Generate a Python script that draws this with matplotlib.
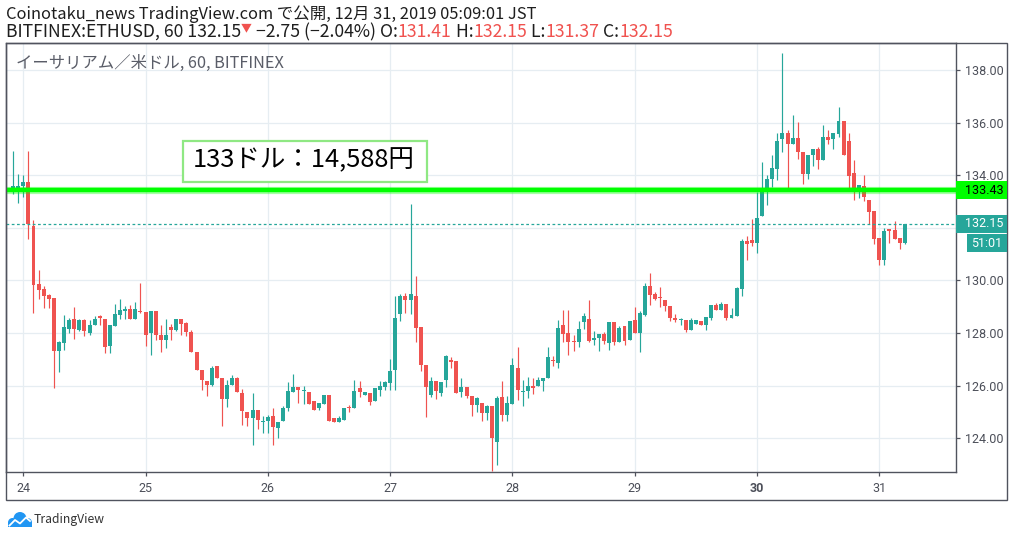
import matplotlib
matplotlib.use('Agg')
import numpy as np
import matplotlib.pyplot as plt
from matplotlib.patches import Rectangle, Circle
from matplotlib.lines import Line2D
from matplotlib.transforms import IdentityTransform

# ---------------- data ----------------
day_labels = ['24', '25', '26', '27', '28', '29', '30', '31']
day_index = [2, 26, 50, 74, 98, 122, 146, 170]
price_ticks = [124, 126, 128, 130, 132, 134, 136, 138]

opens = [133.48, 133.48, 133.60, 133.73, 132.06, 129.86, 129.67, 129.46, 129.33, 127.33,
         127.63, 128.16, 128.53, 128.11, 128.48, 128.00, 128.30, 128.65, 128.53, 127.52,
         128.27, 128.70, 128.84, 128.92, 128.54, 128.85, 128.81, 128.00, 128.85, 127.94,
         127.72, 128.24, 128.10, 128.54, 128.39, 128.04, 127.27, 126.61, 126.19, 126.04,
         126.76, 126.27, 125.49, 126.04, 126.27, 125.70, 124.99, 124.75, 125.06, 124.62,
         124.65, 124.84, 124.39, 124.67, 125.15, 125.76, 125.94, 125.78, 125.75, 125.41,
         125.13, 125.30, 125.63, 124.75, 124.61, 124.71, 125.18, 125.13, 125.89, 125.63,
         125.70, 125.43, 125.85, 125.95, 126.09, 126.58, 128.73, 129.39, 129.25, 129.39,
         128.22, 126.77, 125.66, 126.19, 125.71, 126.21, 126.97, 126.92, 125.75, 125.95,
         125.62, 125.25, 125.33, 124.95, 125.22, 123.87, 125.58, 124.87, 125.30, 126.68,
         125.75, 125.81, 125.99, 125.99, 126.19, 126.27, 126.97, 126.86, 128.30, 128.00,
         127.70, 127.67, 128.43, 128.53, 127.72, 127.82, 127.96, 127.63, 128.42, 127.66,
         128.27, 127.73, 128.49, 128.01, 128.70, 129.80, 129.49, 129.38, 129.27, 129.04,
         128.58, 128.48, 128.51, 128.10, 128.35, 128.47, 128.32, 128.56, 129.08, 128.89,
         129.11, 128.56, 128.63, 129.68, 131.49, 131.54, 131.44, 132.43, 133.38, 133.87,
         134.25, 135.39, 135.61, 135.20, 135.42, 134.89, 134.03, 134.77, 135.00, 134.59,
         135.44, 135.38, 135.58, 136.06, 135.30, 134.09, 133.35, 133.59, 133.06, 132.65,
         131.63, 130.78, 131.96, 131.92, 131.62, 131.41]
highs = [134.91, 134.04, 134.00, 134.91, 132.29, 130.39, 129.78, 129.48, 129.33, 127.70,
         128.68, 128.58, 128.99, 128.53, 128.53, 128.48, 128.63, 128.70, 128.53, 128.30,
         129.11, 129.28, 129.04, 129.08, 129.19, 129.92, 128.81, 128.85, 128.85, 128.30,
         128.54, 128.35, 128.54, 128.54, 128.43, 128.13, 127.27, 126.61, 126.19, 126.76,
         126.76, 126.27, 126.23, 126.42, 126.32, 125.87, 124.99, 125.70, 125.06, 124.86,
         124.90, 125.15, 124.61, 125.24, 126.13, 126.46, 125.94, 126.00, 125.75, 125.41,
         125.32, 125.66, 125.63, 124.75, 124.84, 125.15, 125.25, 126.23, 126.19, 125.75,
         125.70, 125.89, 126.19, 126.19, 127.03, 129.39, 129.47, 129.53, 132.92, 130.16,
         128.22, 126.77, 126.32, 126.19, 126.14, 127.15, 127.09, 126.92, 126.27, 125.95,
         125.62, 125.57, 125.33, 125.27, 125.22, 125.61, 126.19, 125.62, 127.05, 127.47,
         126.22, 126.33, 126.30, 126.33, 126.30, 127.47, 127.14, 128.49, 128.87, 128.87,
         127.92, 128.46, 128.76, 129.25, 128.09, 127.96, 128.03, 128.42, 128.42, 128.27,
         128.27, 128.46, 128.99, 128.84, 129.90, 130.30, 129.56, 129.76, 129.27, 129.04,
         128.73, 128.56, 128.51, 128.56, 128.51, 128.47, 128.62, 129.08, 129.14, 129.19,
         129.11, 128.94, 129.76, 131.58, 131.67, 132.33, 133.38, 134.51, 134.01, 134.77,
         135.61, 138.66, 135.72, 136.29, 136.04, 134.89, 134.77, 135.00, 135.09, 135.91,
         135.72, 135.59, 136.59, 136.06, 135.62, 134.58, 133.62, 134.01, 133.06, 132.65,
         131.63, 131.99, 131.96, 132.27, 131.62, 132.15]
lows = [133.30, 132.95, 133.18, 131.57, 128.77, 129.30, 128.96, 128.96, 125.92, 126.53,
        127.37, 128.00, 127.77, 128.06, 127.90, 127.92, 128.29, 128.30, 127.23, 127.23,
        128.27, 128.53, 128.53, 128.54, 128.54, 128.76, 127.49, 127.15, 127.75, 127.27,
        127.42, 127.75, 128.06, 127.94, 127.87, 127.27, 126.61, 125.82, 125.62, 125.97,
        126.27, 124.46, 125.18, 126.04, 125.75, 124.52, 124.48, 123.76, 124.35, 124.18,
        124.18, 123.76, 123.99, 124.67, 125.05, 125.76, 125.34, 125.30, 125.30, 125.09,
        125.09, 125.30, 124.65, 124.61, 124.61, 124.71, 124.99, 125.13, 125.57, 125.63,
        125.25, 125.43, 125.59, 125.85, 125.85, 125.82, 128.46, 128.75, 128.73, 127.66,
        126.56, 124.81, 125.57, 125.50, 125.62, 125.94, 126.68, 125.71, 125.58, 125.51,
        124.83, 124.98, 124.65, 124.71, 122.75, 123.00, 124.64, 124.64, 125.30, 125.46,
        125.24, 125.53, 125.68, 125.99, 125.81, 126.27, 126.75, 126.68, 127.67, 127.16,
        127.33, 127.47, 128.16, 127.66, 127.54, 127.33, 127.59, 127.35, 127.56, 127.66,
        127.56, 127.73, 128.01, 127.29, 128.66, 129.05, 129.27, 128.97, 128.82, 128.44,
        128.41, 128.30, 128.03, 128.10, 128.35, 128.29, 128.13, 128.51, 128.86, 128.89,
        128.51, 128.56, 128.63, 129.39, 130.78, 131.29, 131.04, 132.43, 132.85, 133.57,
        133.80, 134.90, 133.51, 135.20, 134.61, 133.65, 133.84, 134.35, 134.25, 134.59,
        135.19, 135.01, 135.46, 134.77, 133.51, 133.06, 133.15, 133.03, 132.14, 131.39,
        130.57, 130.59, 131.42, 131.59, 131.20, 131.37]
closes = [133.58, 133.58, 133.73, 132.13, 129.84, 129.65, 129.42, 129.30, 127.33, 127.67,
          128.23, 128.48, 128.16, 128.48, 128.06, 128.30, 128.53, 128.58, 127.48, 128.30,
          128.73, 128.89, 128.91, 128.54, 128.92, 128.78, 127.91, 128.85, 127.91, 127.75,
          127.94, 128.10, 128.54, 128.35, 128.04, 127.27, 126.61, 126.20, 126.04, 126.68,
          126.27, 125.49, 126.03, 126.30, 125.75, 125.03, 124.76, 125.06, 124.68, 124.67,
          124.81, 124.42, 124.61, 125.15, 125.78, 125.94, 125.82, 125.85, 125.30, 125.09,
          125.32, 125.63, 124.67, 124.61, 124.75, 125.15, 125.13, 125.81, 125.76, 125.75,
          125.37, 125.89, 126.00, 126.13, 126.57, 128.58, 129.39, 129.25, 129.47, 128.19,
          126.78, 125.94, 126.16, 125.80, 126.14, 127.11, 126.91, 125.71, 125.95, 125.61,
          125.28, 125.51, 124.95, 125.22, 124.00, 125.54, 124.87, 125.35, 126.78, 125.84,
          125.78, 125.99, 125.89, 126.20, 126.27, 127.09, 126.92, 128.19, 127.97, 127.67,
          127.65, 128.15, 128.65, 127.70, 127.80, 127.96, 127.71, 128.42, 127.67, 128.19,
          127.71, 128.46, 128.01, 128.76, 129.80, 129.46, 129.30, 129.32, 129.01, 128.56,
          128.48, 128.51, 128.10, 128.51, 128.51, 128.29, 128.62, 129.08, 128.89, 129.10,
          128.58, 128.70, 129.73, 131.51, 131.39, 131.44, 132.38, 133.38, 133.85, 134.28,
          135.30, 135.61, 135.20, 135.42, 134.90, 134.06, 134.77, 135.00, 134.59, 135.44,
          135.34, 135.59, 136.06, 134.77, 133.97, 133.51, 133.62, 133.19, 132.61, 131.58,
          130.78, 131.86, 131.89, 131.59, 131.44, 132.15]

hline_level = 133.43
countdown = '51:01'
change_text = ' \u22122.75 (\u22122.04%) O:'
header1 = 'Coinotaku_news TradingView.com で公開, 12月 31, 2019 05:09:01 JST'
header2_symbol = 'BITFINEX:ETHUSD, 60 '
symbol_label = 'イーサリアム／米ドル, 60, BITFINEX'
note_text = '133ドル：14,588円'
brand = 'TradingView'

# ---------------- style ----------------
UP = '#26a69a'
DN = '#ef5350'
GRID = '#e6edf2'
BORDER = '#50535e'
TXT = '#4c4f59'
HDR = '#1e1e1e'
HRED = '#f0524f'
AXF = 'Roboto'
AXFS = 9.0

plt.rcParams['font.family'] = ['Noto Sans CJK JP', 'DejaVu Sans']

W, H = 1014, 537
fig = plt.figure(figsize=(W / 100, H / 100), dpi=100)
fig.patch.set_facecolor('white')
renderer = fig.canvas.get_renderer()


def fx(px):
    return px / W


def fy(py):
    return 1 - py / H


def text_width(s, **kw):
    t = fig.text(0, 0, '|' + s + '|', **kw)
    w1 = t.get_window_extent(renderer).width
    t.set_text('||')
    w2 = t.get_window_extent(renderer).width
    t.remove()
    return w1 - w2


def fit_size(s, target, base=10, **kw):
    return base * target / text_width(s, fontsize=base, **kw)


L, R, T, B = 6, 956, 43, 472
ax = fig.add_axes([fx(L), fy(B), (R - L) / W, (B - T) / H])
ax.set_facecolor('white')

o = np.array(opens)
h = np.array(highs)
lo = np.array(lows)
c = np.array(closes)
x = np.arange(len(o))
cols = np.where(c >= o, UP, DN)

ax.vlines(x, lo, h, colors=cols, lw=0.85, zorder=3)
bh = np.maximum(np.abs(c - o), 0.04)
ax.bar(x, bh, bottom=np.minimum(o, c), width=0.78, color=cols, edgecolor='none', zorder=4)

# lines
ax.axhline(hline_level, color='#00ff00', lw=5.2, alpha=0.35, zorder=5)
ax.axhline(hline_level, color='#00ff00', lw=3.2, zorder=6)
ax.axhline(c[-1], color=UP, lw=0.9, ls=(0, (2.2, 2.0)), zorder=5)

# limits (pixel-calibrated)
ax.set_xlim(2 + (L - 23.3) / 5.095, 2 + (R - 23.3) / 5.095)
ax.set_ylim(124 - (B - 438.2) / 26.3, 138 + (70.0 - T) / 26.3)

ax.grid(True, color=GRID, lw=0.9)
ax.set_axisbelow(True)
for sp in ax.spines.values():
    sp.set_color(BORDER)
    sp.set_linewidth(1.0)


def ypix(price):
    return ax.transData.transform((0, price))[1]


last_y = ypix(c[-1])
ylabels = []
for v in price_ticks:
    # the reference hides a tick label that lies under the last-price box
    ylabels.append('' if abs(ypix(v) - last_y) < 12 else f'{v:.2f}')

ax.yaxis.tick_right()
ax.set_yticks(price_ticks)
ax.set_yticklabels(ylabels, family=AXF, fontsize=AXFS, color=TXT)
ax.tick_params(axis='y', length=3, width=0.9, color=BORDER, pad=3.8)
ax.set_xticks(day_index)
ax.set_xticklabels(day_labels, family=AXF, fontsize=AXFS, color=TXT)
ax.tick_params(axis='x', length=3, width=0.9, color=BORDER, pad=4.5)
for lab in ax.get_xticklabels():
    if lab.get_text() == '30':
        lab.set_fontweight('bold')

# outer frame
fig.add_artist(Rectangle((fx(6), fy(500)), (1007 - 6) / W, (500 - 43) / H,
                         transform=fig.transFigure, fill=False, ec=BORDER, lw=1.0))

# price-axis labels
yp = ypix(hline_level)
fig.add_artist(Rectangle((fx(956), (yp - 9) / H), 51 / W, 18 / H, transform=fig.transFigure,
                         fc='#00ff00', ec='none', zorder=5))
fig.text(fx(965), yp / H, f'{hline_level:.2f}', family=AXF, fontsize=AXFS, color='black',
         va='center', ha='left', zorder=6)
fig.add_artist(Rectangle((fx(956), (last_y - 9) / H), 51 / W, 18 / H, transform=fig.transFigure,
                         fc=UP, ec='none', zorder=5))
fig.text(fx(965), last_y / H, f'{c[-1]:.2f}', family=AXF, fontsize=AXFS, color='white',
         va='center', ha='left', zorder=6)
fig.add_artist(Rectangle((fx(967), (last_y - 28) / H), 40 / W, 17.5 / H, transform=fig.transFigure,
                         fc=UP, ec='none', zorder=5))
fig.text(fx(987), (last_y - 19.2) / H, countdown, family=AXF, fontsize=AXFS, color='white',
         va='center', ha='center', zorder=6)

# header line 1
fs1 = fit_size(header1, 530)
fig.text(fx(6), fy(19), header1, fontsize=fs1, color=HDR, va='baseline', ha='left')

# header line 2 (multi-coloured)
pieces = [(header2_symbol + f'{c[-1]:.2f}', HDR, 1.0),
          ('\u25BC', HRED, 0.62),
          (change_text, HDR, 1.0),
          (f'{o[-1]:.2f}', HRED, 1.0), (' H:', HDR, 1.0),
          (f'{h[-1]:.2f}', HRED, 1.0), (' L:', HDR, 1.0),
          (f'{lo[-1]:.2f}', HRED, 1.0), (' C:', HDR, 1.0),
          (f'{c[-1]:.2f}', HRED, 1.0)]
tot = sum(text_width(s, fontsize=10 * k) for s, _, k in pieces)
fs2 = 10 * 666 / tot
xc = 6.0
for s, col, k in pieces:
    yb = 37 if k == 1.0 else 31
    fig.text(fx(xc), fy(yb), s, fontsize=fs2 * k, color=col, va='baseline', ha='left')
    xc += text_width(s, fontsize=fs2 * k)

# symbol label inside chart
fs3 = fit_size(symbol_label, 268)
fig.text(fx(16), fy(68), symbol_label, fontsize=fs3, color='#5a5d68', va='baseline', ha='left', zorder=7)

# note box
fig.add_artist(Rectangle((fx(182.5), fy(182.3)), (427 - 182.5) / W, (182.3 - 141) / H,
                         transform=fig.transFigure, fc='white', ec='#8fe883', lw=1.6, zorder=8))
fs4 = fit_size(note_text, 222)
fig.text(fx(193), fy(167.5), note_text, fontsize=fs4, color='black', va='baseline', ha='left', zorder=9)

# brand logo
idt = IdentityTransform()
blue = '#2196f3'
for cx, cy, r in [(12.5, 522.5, 4.5), (20.0, 518.5, 6.5), (27.5, 522.5, 4.5)]:
    fig.add_artist(Circle((cx, H - cy), r, transform=idt, fc=blue, ec='none'))
fig.add_artist(Rectangle((8, H - 527), 24, 5, transform=idt, fc=blue, ec='none'))
fig.add_artist(Line2D([9.5, 15, 20, 26, 30], [H - 525.5, H - 520, H - 523.5, H - 517.5, H - 521],
                      transform=idt, color='white', lw=1.3))
fs5 = fit_size(brand, 71)
fig.text(fx(34), fy(519), brand, fontsize=fs5, color='#333333', va='center', ha='left')

fig.savefig('out.png', dpi=100, facecolor='white')
